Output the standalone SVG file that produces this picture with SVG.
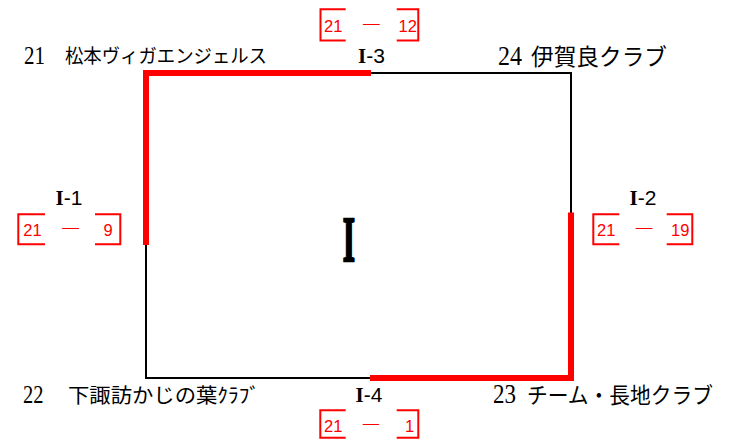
<svg xmlns="http://www.w3.org/2000/svg" width="735" height="440" viewBox="0 0 735 440">
<style>
.ln{fill:none;stroke:#000;stroke-width:2}
.rd{fill:none;stroke:#f00;stroke-width:6;stroke-linejoin:miter;stroke-linecap:butt}
.bx{fill:none;stroke:#f00;stroke-width:2}
.sc{font-family:"Liberation Sans","Noto Sans CJK JP",sans-serif;font-size:16.5px;fill:#f00}
.dash{font-family:"Noto Sans CJK JP",sans-serif;font-size:16px;fill:#f00;text-anchor:middle}
.ml{font-family:"Liberation Sans","Noto Sans CJK JP",sans-serif;font-size:21px;fill:#000;text-anchor:middle}
.rs{font-family:"Liberation Serif",serif;font-weight:bold}
.tm{font-family:"Liberation Serif","Noto Sans CJK JP",serif;fill:#000}
.jp{font-family:"Noto Sans CJK JP",sans-serif}
.big{font-family:"Liberation Serif",serif;font-weight:bold;font-size:63px;fill:#000;stroke:#000;stroke-width:2.4;text-anchor:middle}
</style>
<g id="connectors">
<path class="ln" d="M146,73 H571 V378 H146 Z"/>
<path class="rd" d="M146,245 V73 H371"/>
<path class="rd" d="M370,378 H571 V212.5"/>
</g>
<g id="team21">
<text class="tm" y="63.5"><tspan x="24" font-size="25" textLength="21" lengthAdjust="spacingAndGlyphs">21</tspan> <tspan class="jp" x="65" font-size="19" y="63" textLength="202" lengthAdjust="spacingAndGlyphs">松本ヴィガエンジェルス</tspan></text>
</g>
<g id="team24">
<text class="tm" y="65"><tspan x="498" font-size="27" textLength="24" lengthAdjust="spacingAndGlyphs">24</tspan> <tspan class="jp" x="531" font-size="22.5" textLength="136" lengthAdjust="spacingAndGlyphs">伊賀良クラブ</tspan></text>
</g>
<g id="team22">
<text class="tm" y="402.7"><tspan x="23" font-size="25" textLength="20.5" lengthAdjust="spacingAndGlyphs">22</tspan> <tspan class="jp" x="68" y="402.5" font-size="20" textLength="192" lengthAdjust="spacingAndGlyphs">下諏訪かじの葉ｸﾗﾌﾞ</tspan></text>
</g>
<g id="team23">
<text class="tm" y="403.3"><tspan x="493" font-size="27" textLength="23" lengthAdjust="spacingAndGlyphs">23</tspan> <tspan class="jp" x="527" y="403" font-size="22" textLength="186" lengthAdjust="spacingAndGlyphs">チーム・長地クラブ</tspan></text>
</g>
<g id="block">
<text class="big" transform="translate(349,261) scale(0.5,1)" x="0" y="0">I</text>
</g>
<g id="match1">
<text class="ml" x="69" y="205"><tspan class="rs">I</tspan>-1</text>
<path class="bx" d="M45,214.3 H18.3 V244.3 H45"/>
<path class="bx" d="M95,214.3 H120.3 V244.3 H95"/>
<text class="sc" x="23.3" y="235.7">21</text>
<text class="dash" transform="translate(70.7,234) scale(1.45,1)">－</text>
<text class="sc" x="103.5" y="235.7">9</text>
</g>
<g id="match2">
<text class="ml" x="643" y="205"><tspan class="rs">I</tspan>-2</text>
<path class="bx" d="M619.3,214.3 H593.3 V244.3 H619.3"/>
<path class="bx" d="M666.7,214.3 H692.3 V244.3 H666.7"/>
<text class="sc" x="597" y="235.7">21</text>
<text class="dash" transform="translate(644,234) scale(1.45,1)">－</text>
<text class="sc" x="671" y="235.7">19</text>
</g>
<g id="match3">
<text class="ml" x="371.5" y="63"><tspan class="rs">I</tspan>-3</text>
<path class="bx" d="M345.7,9.3 H320.5 V40.5 H345.7"/>
<path class="bx" d="M396.7,9.3 H418.3 V40.5 H396.7"/>
<text class="sc" x="324" y="31.7">21</text>
<text class="dash" transform="translate(371.3,30) scale(1.45,1)">－</text>
<text class="sc" x="398.5" y="31.7">12</text>
</g>
<g id="match4">
<text class="ml" x="369" y="401.5"><tspan class="rs">I</tspan>-4</text>
<path class="bx" d="M345.7,410.3 H320.3 V437.7 H345.7"/>
<path class="bx" d="M396.7,410.3 H418.3 V437.7 H396.7"/>
<text class="sc" x="324" y="431.7">21</text>
<text class="dash" transform="translate(371,430) scale(1.4,1)">－</text>
<text class="sc" x="405" y="431.7">1</text>
</g>
</svg>
